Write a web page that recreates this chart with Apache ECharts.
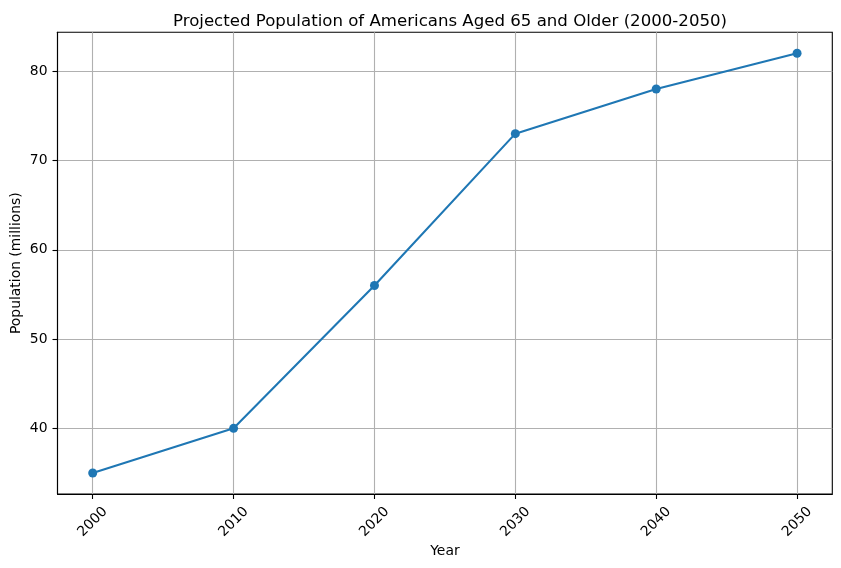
<!DOCTYPE html>
<html>
<head>
<meta charset="utf-8">
<script src="https://cdn.jsdelivr.net/npm/echarts@6/dist/echarts.min.js"></script>
<style>
html,body{margin:0;padding:0;background:#fff;}
#chart{width:841px;height:568px;}
</style>
</head>
<body>
<div id="chart"></div>
<script type="text/javascript">
// data
var years = [2000, 2010, 2020, 2030, 2040, 2050];
var population = [35, 40, 56, 73, 78, 82];
var xTicks = [2000, 2010, 2020, 2030, 2040, 2050];
var yTicks = [40, 50, 60, 70, 80];

var font = 'DejaVu Sans';
var gridColor = '#b0b0b0';

var chart = echarts.init(document.getElementById('chart'));
chart.setOption({
  animation: false,
  backgroundColor: '#fff',
  title: {
    text: 'Projected Population of Americans Aged 65 and Older (2000-2050)',
    left: 445,
    top: 8,
    textAlign: 'center',
    textStyle: {
      fontFamily: font,
      fontSize: 16.6,
      fontWeight: 'normal',
      color: '#000'
    }
  },
  grid: {
    left: 57.5,
    right: 8.7,
    top: 32.3,
    bottom: 74,
    containLabel: false,
    outerBoundsMode: 'none',
    show: true,
    borderColor: '#000',
    borderWidth: 1.1
  },
  xAxis: {
    type: 'value',
    min: 1997.5,
    max: 2052.5,
    name: 'Year',
    nameLocation: 'middle',
    nameGap: 50,
    nameMoveOverlap: false,
    nameTextStyle: { fontFamily: font, fontSize: 13.9, color: '#000' },
    axisLine: { show: true, lineStyle: { color: '#000', width: 1.1 } },
    axisTick: {
      show: true,
      length: 5,
      customValues: xTicks,
      lineStyle: { color: '#000', width: 1.1 }
    },
    axisLabel: {
      customValues: xTicks,
      rotate: 45,
      align: 'center',
      verticalAlign: 'middle',
      margin: 28,
      fontFamily: font,
      fontSize: 13.9,
      color: '#000',
      formatter: function (v) { return String(v); }
    },
    splitLine: { show: true, lineStyle: { color: gridColor, width: 1.1 } }
  },
  yAxis: {
    type: 'value',
    min: 32.65,
    max: 84.35,
    name: 'Population (millions)',
    nameLocation: 'middle',
    nameGap: 34,
    nameRotate: 90,
    nameMoveOverlap: false,
    nameTextStyle: { fontFamily: font, fontSize: 13.9, color: '#000' },
    axisLine: { show: true, lineStyle: { color: '#000', width: 1.1 } },
    axisTick: {
      show: true,
      length: 5,
      customValues: yTicks,
      lineStyle: { color: '#000', width: 1.1 }
    },
    axisLabel: {
      customValues: yTicks,
      margin: 10,
      fontFamily: font,
      fontSize: 13.9,
      color: '#000',
      formatter: function (v) { return String(v); }
    },
    splitLine: { show: true, lineStyle: { color: gridColor, width: 1.1 } }
  },
  series: [{
    type: 'line',
    data: years.map(function (y, i) { return [y, population[i]]; }),
    symbol: 'circle',
    symbolSize: 9,
    lineStyle: { color: '#1f77b4', width: 2.1 },
    itemStyle: { color: '#1f77b4', borderWidth: 0 }
  }]
});
</script>
</body>
</html>
